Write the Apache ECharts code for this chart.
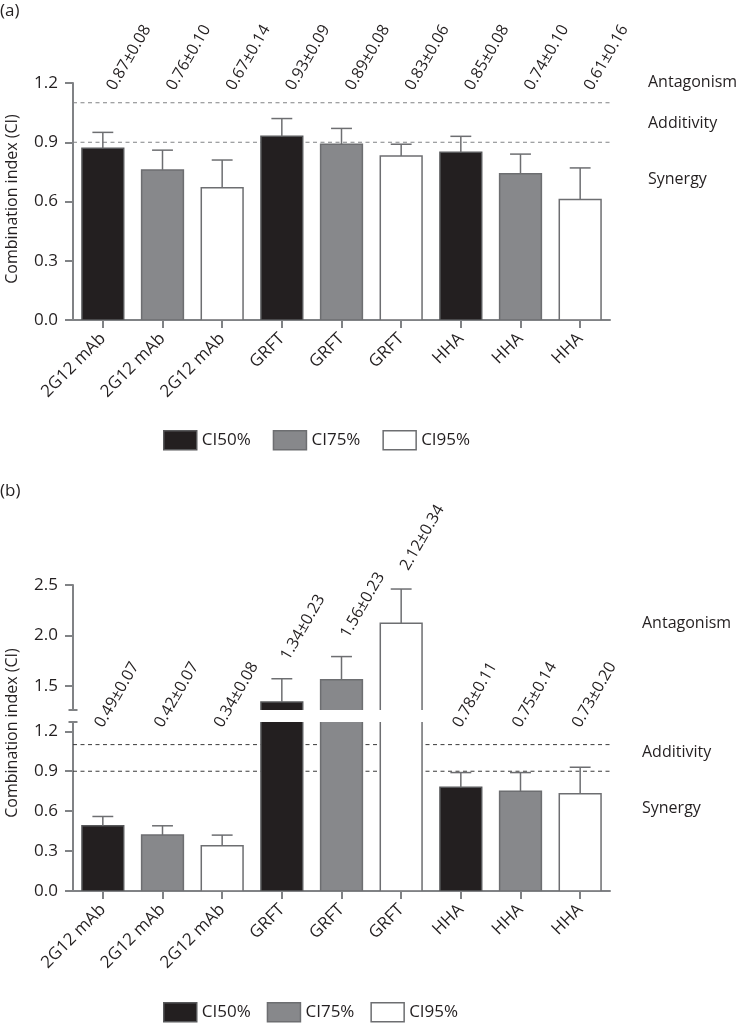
<!DOCTYPE html>
<html><head><meta charset="utf-8">
<script src="https://cdn.jsdelivr.net/npm/echarts@6/dist/echarts.min.js"></script>
<style>html,body{margin:0;padding:0;background:#fff}#c{width:741px;height:1023px}</style>
</head><body><div id="c"></div>
<script>
// ---------- data ----------
const categories = ['2G12 mAb','2G12 mAb','2G12 mAb','GRFT','GRFT','GRFT','HHA','HHA','HHA'];
const seriesNames = ['CI50%','CI75%','CI95%'];
const ciLevel = [0,1,2,0,1,2,0,1,2];
const valuesA = [0.87,0.76,0.67,0.93,0.89,0.83,0.85,0.74,0.61];
const errorsA = [0.08,0.10,0.14,0.09,0.08,0.06,0.08,0.10,0.16];
const valuesB = [0.49,0.42,0.34,1.34,1.56,2.12,0.78,0.75,0.73];
const errorsB = [0.07,0.07,0.08,0.23,0.23,0.34,0.11,0.14,0.20];
const ticksA = [0,0.3,0.6,0.9,1.2];
const ticksBLower = [0,0.3,0.6,0.9,1.2];
const ticksBUpper = [1.5,2.0,2.5];
const thresholds = [0.9,1.1];
const zoneLabels = ['Antagonism','Additivity','Synergy'];

// ---------- style ----------
const FONT = "'Open Sans', sans-serif";
const FS = 17;
const FS2 = 16;
const TXT = '#231f20';
const AX = '#808285';
const fills = ['#231f20','#87888b','#ffffff'];
const strokes = ['#58595b','#6d6e71','#6d6e71'];
const ERR = '#6d6e71';
const B_LOW_MAX = 1.27, B_UP_MIN = 1.26, B_UP_MAX = 2.5;
const ROT = 60 * Math.PI / 180;

const chart = echarts.init(document.getElementById('c'), null, {renderer:'canvas'});

function barRenderer(level){
  return function(params, api){
    const i = api.value(0), v = api.value(1);
    const top = api.coord([i, v]);
    const base = api.coord([i, 0]);
    const w = api.size([1, 0])[0] * 0.7;
    return {type:'rect', shape:{x: top[0]-w/2, y: top[1], width: w, height: base[1]-top[1]},
      style:{fill: fills[level], stroke: strokes[level], lineWidth: 1.5}};
  };
}
function errRenderer(params, api){
  const i = api.value(0), v = api.value(1), e = api.value(2);
  const p0 = api.coord([i, v]), p1 = api.coord([i, v + e]);
  const cw = api.size([1, 0])[0] * 0.35;
  return {type:'group', children:[
    {type:'line', shape:{x1:p0[0], y1:p0[1], x2:p1[0], y2:p1[1]}, style:{stroke:ERR, lineWidth:1.5}},
    {type:'line', shape:{x1:p1[0]-cw/2, y1:p1[1], x2:p1[0]+cw/2, y2:p1[1]}, style:{stroke:ERR, lineWidth:1.5}}
  ]};
}
function threshRenderer(color){
  return function(params, api){
    const y = api.coord([0, api.value(1)])[1];
    const cs = params.coordSys;
    return {type:'line', shape:{x1:cs.x, y1:y, x2:cs.x+cs.width, y2:y},
      style:{stroke:color, lineWidth:1, lineDash:[4,3.5]}};
  };
}
function labelRenderer(mode, dx, dy){
  return function(params, api){
    const i = api.value(0), v = api.value(1), e = api.value(2);
    const ref = mode === 'fixed' ? api.coord([i, 1.2]) : api.coord([i, v + e]);
    return {type:'text', x: ref[0] + dx, y: ref[1] + dy, rotation: ROT,
      style:{text: v.toFixed(2) + '±' + e.toFixed(2), fill: TXT, font: FS2 + 'px ' + FONT,
        align:'left', verticalAlign:'bottom'}};
  };
}

function rows(values, errors, filterFn){
  const out = [];
  values.forEach((v, i) => { if (!filterFn || filterFn(v, errors[i], i)) out.push([i, v, errors[i]]); });
  return out;
}

const series = [];
series.push({type:'custom', xAxisIndex:0, yAxisIndex:0, z:1, silent:true, renderItem: threshRenderer('#808285'),
  data: thresholds.map(t => [0, t])});
series.push({type:'custom', xAxisIndex:2, yAxisIndex:2, z:1, silent:true, renderItem: threshRenderer('#3a3a3a'),
  data: thresholds.map(t => [0, t])});
[[0, valuesA, errorsA], [1, valuesB, errorsB], [2, valuesB, errorsB]].forEach(([g, vals, errs]) => {
  seriesNames.forEach((name, L) => {
    series.push({type:'custom', name, xAxisIndex:g, yAxisIndex:g, z:2, clip:true, silent:true,
      renderItem: barRenderer(L), itemStyle:{color: fills[L], borderColor: strokes[L], borderWidth:1.5},
      encode:{x:0, y:1},
      data: rows(vals, errs, (v, e, i) => ciLevel[i] === L)});
  });
  series.push({type:'custom', xAxisIndex:g, yAxisIndex:g, z:3, clip:true, silent:true,
    renderItem: errRenderer, encode:{x:0, y:1}, data: rows(vals, errs)});
});
series.push({type:'custom', xAxisIndex:0, yAxisIndex:0, z:5, silent:true,
  renderItem: labelRenderer('fixed', 15, 10), data: rows(valuesA, errorsA)});
series.push({type:'custom', xAxisIndex:2, yAxisIndex:2, z:5, silent:true,
  renderItem: labelRenderer('fixed', 3, -1), data: rows(valuesB, errorsB, (v, e) => v + e <= B_LOW_MAX)});
series.push({type:'custom', xAxisIndex:1, yAxisIndex:1, z:5, silent:true,
  renderItem: labelRenderer('cap', 10, -16), data: rows(valuesB, errorsB, (v, e) => v + e > B_LOW_MAX)});

const axisLineStyle = {color: AX, width: 2};
function xAxisDef(gi, show){
  return {type:'category', gridIndex:gi, data:categories, show: show, boundaryGap:true,
    axisLine:{show:true, lineStyle:axisLineStyle},
    axisTick:{show:true, alignWithLabel:true, interval:0, length:8, lineStyle:axisLineStyle},
    axisLabel:{interval:0, rotate:45, margin:16, fontSize:FS, color:TXT, fontFamily:FONT},
    splitLine:{show:false}};
}
function yAxisDef(gi, min, max, ticks){
  return {type:'value', gridIndex:gi, min, max,
    axisLine:{show:true, lineStyle:axisLineStyle},
    axisTick:{show:true, length:8, lineStyle:axisLineStyle, customValues: ticks},
    axisLabel:{customValues: ticks, margin:15, fontSize:FS, color:TXT, fontFamily:FONT,
      formatter: v => Number(v).toFixed(1)},
    splitLine:{show:false}};
}

const legendBase = {orient:'horizontal', icon:'rect', itemWidth:33, itemHeight:19, selectedMode:false,
  padding:0, textStyle:{fontSize:FS, color:TXT, fontFamily:FONT},
  data: seriesNames.map((n, k) => ({name:n, itemStyle:{color:fills[k], borderColor:strokes[k], borderWidth:1.5}}))};

function txt(x, y, text, fs){
  return {type:'text', x, y, style:{text, fill:TXT, font: (fs || FS2) + 'px ' + FONT,
    textAlign:'left', textVerticalAlign:'middle'}};
}
function vtxt(x, y, text){
  return {type:'text', x, y, rotation:Math.PI/2, style:{text, fill:TXT, font: FS2 + 'px ' + FONT,
    textAlign:'center', textVerticalAlign:'middle'}};
}

const graphics = [
  txt(0, 11, '(a)', FS),
  txt(0, 491, '(b)', FS),
  txt(648, 82, zoneLabels[0]), txt(648, 123, zoneLabels[1]), txt(648, 179, zoneLabels[2]),
  txt(642, 623, zoneLabels[0]), txt(642, 752, zoneLabels[1]), txt(642, 808, zoneLabels[2]),
  vtxt(12, 199, 'Combination index (CI)'),
  vtxt(12, 733, 'Combination index (CI)')
];

chart.setOption({
  animation:false,
  backgroundColor:'#ffffff',
  grid:[
    {left:73, top:83, width:537, height:237},
    {left:73, top:585, width:537, height:125},
    {left:73, top:722, width:537, height:169}
  ],
  xAxis:[xAxisDef(0, true), xAxisDef(1, false), xAxisDef(2, true)],
  yAxis:[yAxisDef(0, 0, 1.2, ticksA), yAxisDef(1, B_UP_MIN, B_UP_MAX, ticksBUpper), yAxisDef(2, 0, B_LOW_MAX, ticksBLower)],
  legend:[Object.assign({left:163, top:430, itemGap:22}, legendBase), Object.assign({left:163, top:1002, itemGap:16}, legendBase)],
  series,
  graphic: graphics
});

const yUpBottom = chart.convertToPixel({yAxisIndex:1}, B_UP_MIN);
const yLowTop = chart.convertToPixel({yAxisIndex:2}, B_LOW_MAX);
const axX = 73;
chart.setOption({graphic: graphics.concat([
  {type:'line', shape:{x1:axX-4.5, y1:yUpBottom, x2:axX+4.5, y2:yUpBottom}, style:{stroke:AX, lineWidth:2}},
  {type:'line', shape:{x1:axX-4.5, y1:yLowTop, x2:axX+4.5, y2:yLowTop}, style:{stroke:AX, lineWidth:2}}
])});
</script></body></html>
